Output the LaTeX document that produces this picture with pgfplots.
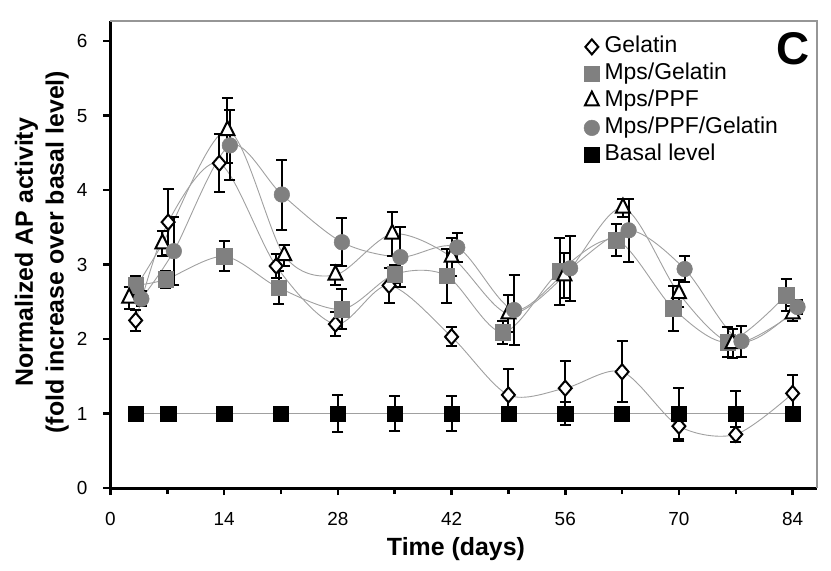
\documentclass[border=0pt]{standalone}
\usepackage{pgfplots}
\usepackage{pgfplotstable}
\pgfplotsset{compat=1.18}
\usepackage{fontspec}
\setmainfont{Liberation Sans}
\definecolor{mgray}{RGB}{128,128,128}
\definecolor{lgray}{RGB}{160,160,160}
\definecolor{fgray}{RGB}{150,150,150}

\pgfplotstableread{
x y e
3.1 2.25 0.14
7.1 3.57 0.44
13.4 4.36 0.39
20.4 2.98 0.16
27.7 2.20 0.16
34.3 2.72 0.23
42.0 2.03 0.13
49.0 1.25 0.35
56.0 1.34 0.36
63.0 1.56 0.41
70.0 0.83 0.20
77.0 0.72 0.10
84.0 1.27 0.25
}\gelatin

\pgfplotstableread{
x y e
3.1 2.72 0.13
6.8 2.80 0.12
14.0 3.11 0.20
20.7 2.69 0.22
28.5 2.40 0.27
35.0 2.87 0.12
41.4 2.85 0.36
48.3 2.09 0.15
55.3 2.91 0.45
62.3 3.33 0.22
69.3 2.41 0.30
76.0 1.96 0.20
83.2 2.59 0.21
}\mpsgel

\pgfplotstableread{
x y e
2.3 2.55 0.15
6.4 3.28 0.17
14.4 4.80 0.44
21.4 3.12 0.14
27.7 2.86 0.14
34.7 3.41 0.30
42.0 3.10 0.25
49.0 2.34 0.25
55.9 2.85 0.30
63.1 3.76 0.12
70.0 2.61 0.18
76.6 1.94 0.20
84.0 2.34 0.10
}\mpsppf

\pgfplotstableread{
x y e
3.8 2.54 0.10
7.8 3.18 0.46
14.7 4.60 0.47
21.1 3.94 0.47
28.5 3.30 0.32
35.7 3.10 0.40
42.7 3.23 0.20
49.7 2.39 0.47
56.6 2.95 0.44
63.8 3.46 0.42
70.7 2.94 0.18
77.7 1.97 0.21
84.6 2.43 0.10
}\mpsppfgel

\pgfplotstableread{
x y e
3.1 1.0 0.03
7.1 1.0 0.03
14.0 1.0 0.03
21.0 1.0 0.03
28.0 1.0 0.25
35.0 1.0 0.24
42.0 1.0 0.24
49.0 1.0 0.05
56.0 1.0 0.15
63.0 1.0 0.05
70.0 1.0 0.34
77.0 1.0 0.30
84.0 1.0 0.05
}\basal

\begin{document}
\begin{tikzpicture}
\path[use as bounding box] (-110.5bp,-83bp) rectangle (720.5bp,488bp);
\begin{axis}[
  at={(0,0)}, anchor=south west,
  scale only axis, width=706.5bp, height=467bp,
  xmin=0, xmax=87, ymin=0, ymax=6.27,
  axis x line*=bottom, axis y line*=left,
  axis line style={line width=3bp, -},
  xtick={0,14,...,84}, minor xtick={7,21,...,77},
  ytick={0,...,6},
  tick align=outside,
  major tick style={line width=2.5bp, black},
  minor tick style={line width=2.5bp, black},
  major tick length=7bp, minor tick length=6bp,
  /pgf/number format/assume math mode=true,
  tick label style={font=\fontsize{19}{19}\selectfont, inner sep=0pt},
  xticklabel style={anchor=base, yshift=-30bp},
  yticklabel style={anchor=east, xshift=-16bp},
  every axis y label/.style={at={(axis description cs:-0.0587,0.505)}, rotate=90, anchor=south, inner sep=0pt, align=center, font=\fontsize{25}{31}\selectfont\bfseries},
  every axis x label/.style={at={(axis description cs:0.489,-0.1456)}, anchor=base, inner sep=0pt, font=\fontsize{25}{25}\selectfont\bfseries},
  xlabel={Time (days)},
  ylabel={Normalized AP activity\\(fold increase over basal level)},
  legend style={draw=none, fill=none, at={(rel axis cs:0.67,0.968)}, anchor=north west, inner sep=0pt,
    font=\fontsize{23}{23}\selectfont, row sep=5.5bp,
    nodes={inner sep=0pt, text height=16.5bp, text depth=5bp},
    /tikz/every odd column/.append style={column sep=5bp}},
  legend cell align=left,
  legend image code/.code={\draw[#1] plot coordinates {(0bp,0bp)};},
  clip=false,
]
% smooth connecting lines
\addplot[lgray, line width=0.9bp, smooth, forget plot] table[x=x,y=y] {\gelatin};
\addplot[lgray, line width=0.9bp, smooth, forget plot] table[x=x,y=y] {\mpsgel};
\addplot[lgray, line width=0.9bp, smooth, forget plot] table[x=x,y=y] {\mpsppf};
\addplot[lgray, line width=0.9bp, smooth, forget plot] table[x=x,y=y] {\mpsppfgel};
\addplot[lgray, line width=0.9bp, forget plot] table[x=x,y=y] {\basal};

\pgfplotsset{my err/.style={error bars/.cd, y dir=both, y explicit,
  error bar style={line width=2bp, black},
  error mark options={rotate=90, mark size=5.5bp, line width=2bp, black}}}

\addplot[only marks, mark=diamond*, mark size=7.5bp,
  mark options={fill=white, draw=black, line width=2bp, xscale=1.15}, my err]
  table[x=x,y=y,y error=e] {\gelatin};
\addlegendentry{Gelatin}
\addplot[only marks, mark=square*, mark size=7.8bp,
  mark options={fill=mgray, draw=mgray, line width=0.5bp}, my err]
  table[x=x,y=y,y error=e] {\mpsgel};
\addlegendentry{Mps/Gelatin}
\addplot[only marks, mark=triangle*, mark size=8bp,
  mark options={fill=white, draw=black, line width=2bp, yscale=1.15}, my err]
  table[x=x,y=y,y error=e] {\mpsppf};
\addlegendentry{Mps/PPF}
\addplot[only marks, mark=*, mark size=7.8bp,
  mark options={fill=mgray, draw=mgray, line width=0.5bp}, my err]
  table[x=x,y=y,y error=e] {\mpsppfgel};
\addlegendentry{Mps/PPF/Gelatin}
\addplot[only marks, mark=square*, mark size=7.6bp,
  mark options={fill=black, draw=black, line width=0.5bp}, my err]
  table[x=x,y=y,y error=e] {\basal};
\addlegendentry{Basal level}

\draw[fgray, line width=1.2bp] (rel axis cs:0,1) -- (rel axis cs:1,1) -- (rel axis cs:1,0);
\node[anchor=north east, inner sep=0pt, font=\fontsize{46}{46}\selectfont\bfseries, xshift=-7bp, yshift=-11bp] at (rel axis cs:1,1) {C};
\end{axis}
\end{tikzpicture}
\end{document}
